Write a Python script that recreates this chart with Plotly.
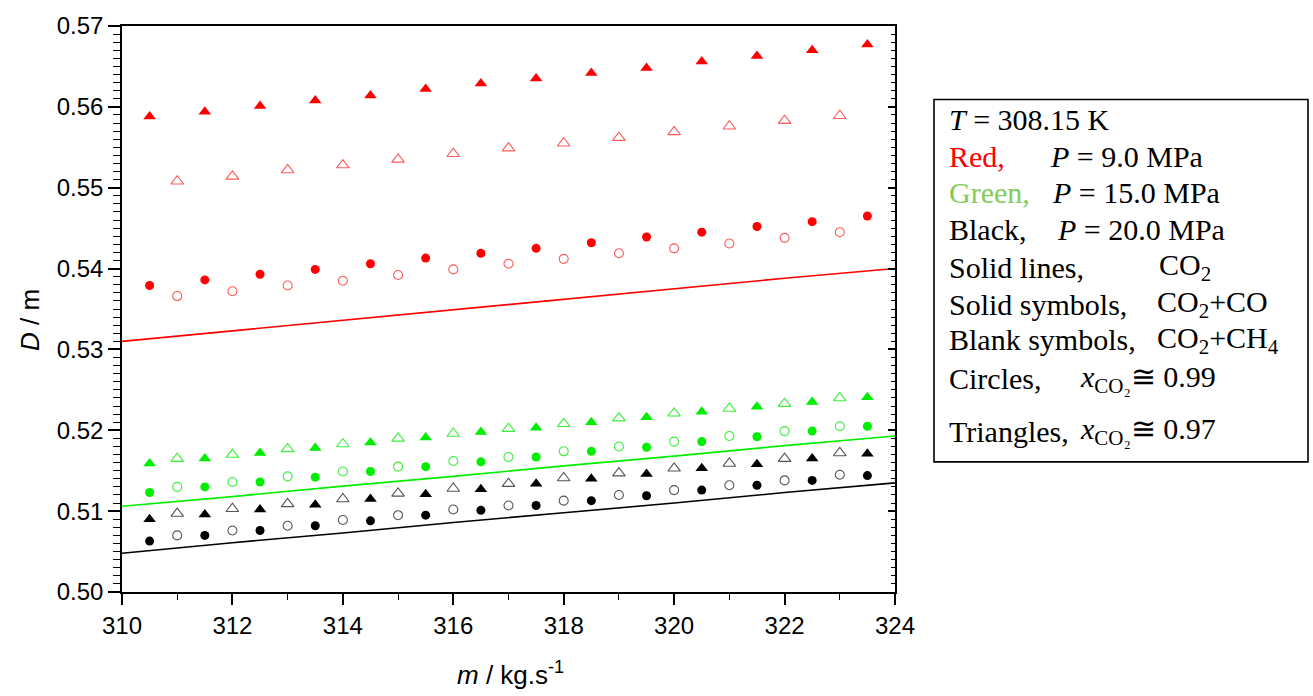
import plotly.graph_objects as go

# Mass flow rate (kg/s) at which each series is sampled
m_solid = [310.5, 311.5, 312.5, 313.5, 314.5, 315.5, 316.5,
           317.5, 318.5, 319.5, 320.5, 321.5, 322.5, 323.5]
m_blank = [311, 312, 313, 314, 315, 316, 317, 318, 319, 320, 321, 322, 323]
m_line = [310, 312, 314, 316, 318, 320, 322, 324]

# P = 9.0 MPa (red)
red_co2 = [0.5310, 0.5323, 0.5336, 0.5349, 0.5362, 0.5375, 0.5388, 0.5400]
red_co_097 = [0.5588, 0.5594, 0.5601, 0.5608, 0.5614, 0.5622, 0.5629,
              0.5635, 0.5642, 0.5648, 0.5656, 0.5663, 0.5670, 0.5677]
red_ch4_097 = [0.5508, 0.5514, 0.5522, 0.5528, 0.5535, 0.5542, 0.5549,
               0.5555, 0.5562, 0.5569, 0.5576, 0.5583, 0.5589]
red_co_099 = [0.5379, 0.5386, 0.5393, 0.5399, 0.5406, 0.5413, 0.5419,
              0.5425, 0.5432, 0.5439, 0.5445, 0.5452, 0.5458, 0.5465]
red_ch4_099 = [0.5366, 0.5372, 0.5379, 0.5385, 0.5392, 0.5399, 0.5406,
               0.5412, 0.5419, 0.5425, 0.5431, 0.5438, 0.5445]

# P = 15.0 MPa (green)
green_co2 = [0.5106, 0.5118, 0.5131, 0.5143, 0.5156, 0.5168, 0.5181, 0.5193]
green_co_097 = [0.5159, 0.5165, 0.5172, 0.5178, 0.5185, 0.5191, 0.5198,
                0.5203, 0.5210, 0.5216, 0.5223, 0.5229, 0.5235, 0.5241]
green_ch4_097 = [0.5165, 0.5170, 0.5177, 0.5183, 0.5190, 0.5196, 0.5202,
                 0.5208, 0.5215, 0.5221, 0.5227, 0.5233, 0.5240]
green_co_099 = [0.5123, 0.5130, 0.5136, 0.5142, 0.5149, 0.5155, 0.5161,
                0.5167, 0.5174, 0.5179, 0.5186, 0.5192, 0.5199, 0.5205]
green_ch4_099 = [0.5130, 0.5136, 0.5143, 0.5149, 0.5155, 0.5162, 0.5167,
                 0.5174, 0.5180, 0.5186, 0.5193, 0.5199, 0.5205]

# P = 20.0 MPa (black)
black_co2 = [0.5048, 0.5061, 0.5073, 0.5086, 0.5098, 0.5110, 0.5123, 0.5135]
black_co_097 = [0.5090, 0.5096, 0.5102, 0.5108, 0.5115, 0.5121, 0.5127,
                0.5134, 0.5140, 0.5146, 0.5153, 0.5158, 0.5165, 0.5171]
black_ch4_097 = [0.5097, 0.5103, 0.5109, 0.5115, 0.5122, 0.5128, 0.5134,
                 0.5141, 0.5147, 0.5153, 0.5159, 0.5165, 0.5172]
black_co_099 = [0.5063, 0.5070, 0.5076, 0.5082, 0.5088, 0.5095, 0.5101,
                0.5107, 0.5113, 0.5119, 0.5126, 0.5132, 0.5138, 0.5144]
black_ch4_099 = [0.5070, 0.5076, 0.5082, 0.5089, 0.5095, 0.5102, 0.5107,
                 0.5113, 0.5120, 0.5126, 0.5132, 0.5138, 0.5145]

# Key box text: (left label, label colour, right text, right text x in px)
key_rows = [
    ("<i>T</i> = 308.15 K", "black", "", 0),
    ("Red,", "#ff0000", "<i>P</i> = 9.0 MPa", 1048),
    ("Green,", "#84cc57", "<i>P</i> = 15.0 MPa", 1050),
    ("Black,", "black", "<i>P</i> = 20.0 MPa", 1055),
    ("Solid lines,", "black", "CO<sub>2</sub>", 1157),
    ("Solid symbols,", "black", "CO<sub>2</sub>+CO", 1155),
    ("Blank symbols,", "black", "CO<sub>2</sub>+CH<sub>4</sub>", 1155),
    ("Circles,", "black", "<i>x</i><sub>CO₂</sub>≅ 0.99", 1078),
    ("Triangles,", "black", "<i>x</i><sub>CO₂</sub>≅ 0.97", 1078),
]
key_row_y = [116, 153, 190, 227, 265, 302, 338, 377, 430]

RED, GREEN, BLACK = "#ff0000", "#00ee00", "#000000"
RED_OPEN, GREEN_OPEN, BLACK_OPEN = "#ff5a5a", "#3af03a", "#555555"

# Plot-area geometry in pixels
W, H = 1313, 696
L, R, T, B = 122, 895, 22, 592
PW, PH = R - L, B - T


def px_x(p):
    return (p - L) / PW


def px_y(p):
    return (B - p) / PH


fig = go.Figure()


def add_line(ys, color):
    fig.add_trace(go.Scatter(x=m_line, y=ys, mode="lines",
                             line=dict(color=color, width=1.6),
                             showlegend=False, hoverinfo="skip"))


def add_solid(xs, ys, color, symbol, size):
    fig.add_trace(go.Scatter(x=xs, y=ys, mode="markers",
                             marker=dict(symbol=symbol, size=size, color=color,
                                         line=dict(width=0)),
                             showlegend=False))


def add_open(xs, ys, color, symbol, size):
    fig.add_trace(go.Scatter(x=xs, y=ys, mode="markers",
                             marker=dict(symbol=symbol + "-open", size=size,
                                         color=color, line=dict(width=1.1, color=color)),
                             showlegend=False))


for line_vals, c in ((red_co2, RED), (green_co2, GREEN), (black_co2, BLACK)):
    add_line(line_vals, c)

for (co97, ch97, co99, ch99, c, co) in (
        (red_co_097, red_ch4_097, red_co_099, red_ch4_099, RED, RED_OPEN),
        (green_co_097, green_ch4_097, green_co_099, green_ch4_099, GREEN, GREEN_OPEN),
        (black_co_097, black_ch4_097, black_co_099, black_ch4_099, BLACK, BLACK_OPEN)):
    add_solid(m_solid, co97, c, "triangle-up", 11)
    add_open(m_blank, ch97, co, "triangle-up", 11)
    add_solid(m_solid, co99, c, "circle", 9)
    add_open(m_blank, ch99, co, "circle", 9)

# empty trace that anchors the right-hand mirror axis
fig.add_trace(go.Scatter(x=[], y=[], yaxis="y2", showlegend=False))

sans = "Liberation Sans, Arial, sans-serif"
serif = "Liberation Serif, Times New Roman, serif"
tick_font = dict(family=sans, size=24, color="black")

annotations = [
    dict(text="<i>D</i> / m", xref="paper", yref="paper", x=px_x(30), y=px_y(318),
         textangle=-90, showarrow=False, xanchor="center", yanchor="middle",
         font=dict(family=sans, size=26, color="black")),
    dict(text="<i>m</i> / kg.s<sup>-1</sup>", xref="paper", yref="paper",
         x=px_x(510), y=px_y(674), showarrow=False, xanchor="center", yanchor="middle",
         font=dict(family=sans, size=26, color="black")),
]
for (left, lcol, right, rx), ry in zip(key_rows, key_row_y):
    annotations.append(dict(text=left, xref="paper", yref="paper", x=px_x(947), y=px_y(ry),
                            showarrow=False, xanchor="left", yanchor="middle",
                            font=dict(family=serif, size=30, color=lcol)))
    if right:
        annotations.append(dict(text=right, xref="paper", yref="paper", x=px_x(rx), y=px_y(ry),
                                showarrow=False, xanchor="left", yanchor="middle",
                                font=dict(family=serif, size=30, color="black")))

fig.update_layout(
    width=W, height=H, autosize=False,
    margin=dict(l=L, r=W - R, t=T, b=H - B, pad=0),
    paper_bgcolor="white", plot_bgcolor="white",
    showlegend=False,
    xaxis=dict(range=[310, 324], dtick=2, tick0=310, showgrid=False, zeroline=False,
               showline=True, linecolor="black", linewidth=1.6, mirror=True,
               ticks="outside", ticklen=11, tickwidth=1.6, tickcolor="black",
               minor=dict(dtick=1, ticks="outside", ticklen=6, tickwidth=1.4,
                          tickcolor="black", showgrid=False),
               tickfont=tick_font),
    yaxis=dict(range=[0.50, 0.57], dtick=0.01, tick0=0.5, tickformat=".2f",
               showgrid=False, zeroline=False, showline=True, linecolor="black",
               linewidth=1.6, ticks="outside", ticklen=12, tickwidth=1.6,
               tickcolor="black",
               minor=dict(dtick=0.001, ticks="outside", ticklen=7, tickwidth=1.4,
                          tickcolor="black", showgrid=False),
               tickfont=tick_font),
    yaxis2=dict(range=[0.50, 0.57], overlaying="y", side="right", dtick=0.01,
                showticklabels=False, showgrid=False, zeroline=False, showline=True,
                linecolor="black", linewidth=1.6, ticks="inside", ticklen=7,
                tickwidth=1.6, tickcolor="black",
                minor=dict(dtick=0.001, ticks="inside", ticklen=4, tickwidth=1.2,
                           tickcolor="black", showgrid=False)),
    annotations=annotations,
    shapes=[dict(type="rect", xref="paper", yref="paper",
                 x0=px_x(934), x1=px_x(1308), y0=px_y(96), y1=px_y(461),
                 line=dict(color="black", width=1.6), fillcolor="rgba(0,0,0,0)")],
)

fig.write_html("out.html")
